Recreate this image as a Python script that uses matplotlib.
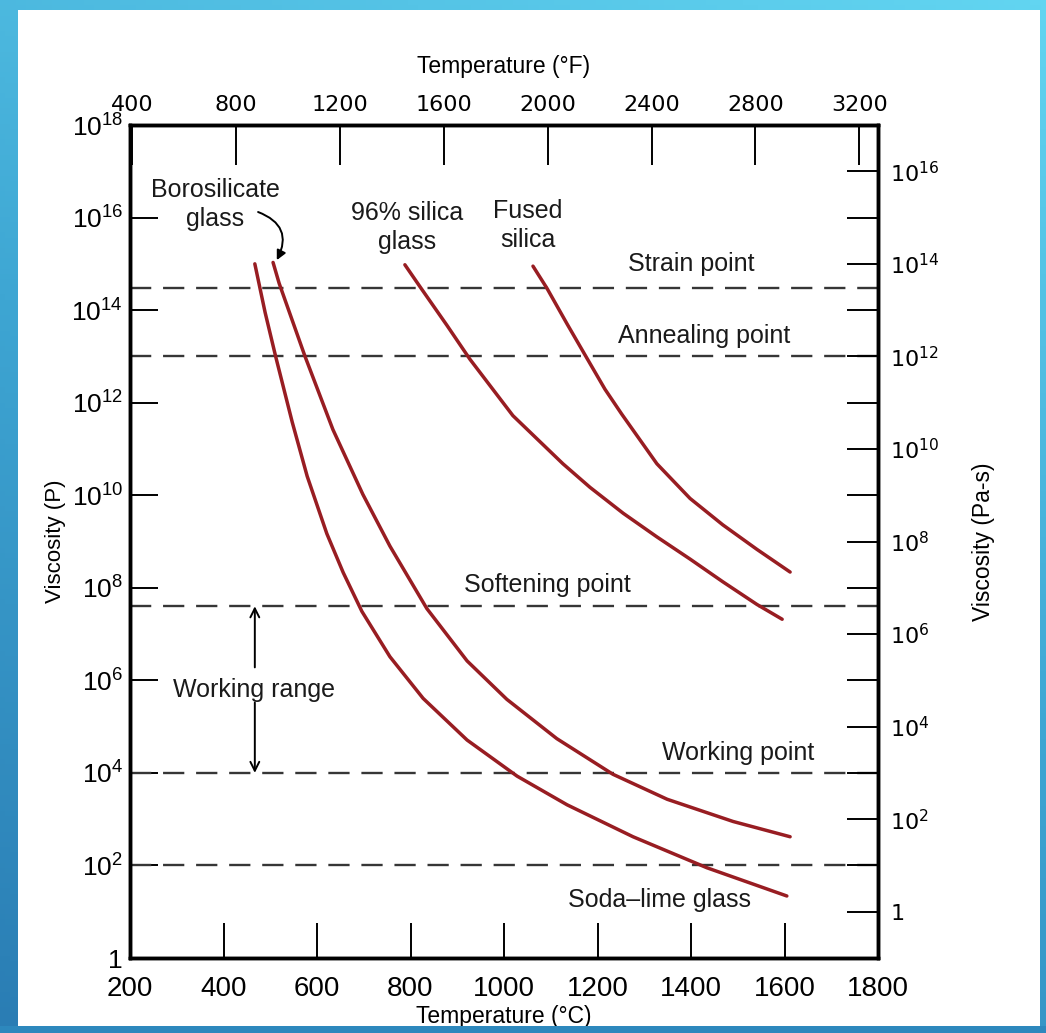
import matplotlib
matplotlib.use("Agg")
import matplotlib.pyplot as plt
import numpy as np
from matplotlib.colors import LinearSegmentedColormap
from matplotlib.patches import Rectangle
from matplotlib.ticker import FixedLocator, NullLocator

plt.rcParams["font.family"] = ["Liberation Sans", "DejaVu Sans"]
plt.rcParams["mathtext.default"] = "regular"

# temperature in deg C, viscosity as log10(P)
soda_lime_T = [467, 489, 512, 547, 579, 621, 656, 696, 756, 827, 921, 1028, 1135, 1276, 1434, 1605]
soda_lime_logP = [15.00, 13.95, 12.98, 11.58, 10.41, 9.17, 8.33, 7.49, 6.51, 5.61, 4.71, 3.93, 3.31, 2.62, 1.95, 1.34]

borosilicate_T = [506, 519, 574, 634, 698, 756, 835, 921, 1006, 1113, 1233, 1349, 1490, 1612]
borosilicate_logP = [15.03, 14.58, 13.01, 11.42, 10.02, 8.90, 7.55, 6.42, 5.59, 4.74, 3.97, 3.43, 2.95, 2.62]

silica96_T = [788, 820, 878, 927, 1019, 1126, 1184, 1255, 1327, 1398, 1468, 1541, 1595]
silica96_logP = [14.98, 14.51, 13.67, 12.94, 11.72, 10.68, 10.17, 9.61, 9.10, 8.62, 8.13, 7.64, 7.32]

fused_T = [1062, 1092, 1135, 1178, 1216, 1252, 1327, 1398, 1468, 1541, 1612]
fused_logP = [14.95, 14.47, 13.70, 12.95, 12.29, 11.75, 10.68, 9.93, 9.36, 8.83, 8.34]

# reference viscosity levels, log10(P)
level_names = ["Strain point", "Annealing point", "Softening point", "Working point", "Melting"]
level_logP = [14.48, 13.0, 7.6, 4.0, 2.0]

c_ticks = [200, 400, 600, 800, 1000, 1200, 1400, 1600, 1800]
f_ticks = [400, 800, 1200, 1600, 2000, 2400, 2800, 3200]
p_exponents = list(range(0, 19, 2))
pas_exponents = list(range(0, 17))

curve_color = "#981d22"
dash_color = "#363636"


def c_to_f(c):
    return c * 9 / 5 + 32


def exp_label(e):
    return "1" if e == 0 else f"$10^{{{e}}}$"


fig = plt.figure(figsize=(10.46, 10.33), dpi=100)

# blue frame behind the white page
frame_cmap = LinearSegmentedColormap.from_list("frame", ["#2a7db4", "#3ea6d3", "#62d5f1"])
bg = fig.add_axes([0, 0, 1, 1], zorder=-10)
g = np.linspace(0, 1, 200)
gx, gy = np.meshgrid(g, g)
bg.imshow(0.7 * gy + 0.3 * gx, extent=[0, 1, 0, 1], origin="lower", aspect="auto",
          cmap=frame_cmap, vmin=0, vmax=1)
bg.add_patch(Rectangle((18 / 1046, 1 - 1026 / 1033), 1022 / 1046, 1016 / 1033,
                       color="white", lw=0))
bg.set_xlim(0, 1)
bg.set_ylim(0, 1)
bg.axis("off")

ax = fig.add_axes([130 / 1046, 1 - 958 / 1033, 748 / 1046, 833 / 1033])
ax.set_facecolor("white")
ax.set_xlim(200, 1800)
ax.set_yscale("log")
ax.set_ylim(1, 1e18)

for lvl in level_logP:
    ax.axhline(10 ** lvl, color=dash_color, lw=1.7, dashes=(9, 5))

for T, lp in [(soda_lime_T, soda_lime_logP), (borosilicate_T, borosilicate_logP),
              (silica96_T, silica96_logP), (fused_T, fused_logP)]:
    ax.plot(T, 10 ** np.asarray(lp), color=curve_color, lw=2.5,
            solid_capstyle="round", solid_joinstyle="round")

# labels on the chart
txt = dict(ha="center", va="center", fontsize=18, color="#1a1a1a")
ax.text(382, 10 ** 16.28, "Borosilicate\nglass", linespacing=1.25, **txt)
ax.text(793, 10 ** 15.79, "96% silica\nglass", linespacing=1.25, **txt)
ax.text(1051, 10 ** 15.83, "Fused\nsilica", linespacing=1.25, **txt)
ax.text(1400, 10 ** 14.99, level_names[0], **txt)
ax.text(1428, 10 ** 13.45, level_names[1], **txt)
ax.text(1092, 10 ** 8.06, level_names[2], **txt)
ax.text(1501, 10 ** 4.44, level_names[3], **txt)
ax.text(465, 10 ** 5.80, "Working range", **txt)
ax.text(1332, 10 ** 1.26, "Soda\u2013lime glass", **txt)

ax.annotate("", xy=(514, 10 ** 15.08), xytext=(474, 10 ** 16.12),
            arrowprops=dict(arrowstyle="-|>", connectionstyle="arc3,rad=-0.55",
                            color="black", lw=1.4, mutation_scale=14,
                            shrinkA=0, shrinkB=0))
arrow_kw = dict(arrowstyle="->", color="black", lw=1.4, mutation_scale=16,
                shrinkA=0, shrinkB=0)
ax.annotate("", xy=(467, 10 ** 7.6), xytext=(467, 10 ** 6.28), arrowprops=arrow_kw)
ax.annotate("", xy=(467, 10 ** 4.0), xytext=(467, 10 ** 5.52), arrowprops=arrow_kw)

# bottom / left axes
ax.set_xticks(c_ticks)
ax.yaxis.set_major_locator(FixedLocator([10.0 ** e for e in p_exponents]))
ax.yaxis.set_minor_locator(NullLocator())
ax.set_yticklabels([exp_label(e) for e in p_exponents])
ax.tick_params(axis="x", direction="in", length=25, width=1.4, pad=13, labelsize=20,
               top=False)
ax.tick_params(axis="y", direction="in", length=20, width=1.4, pad=5, labelsize=19,
               right=False)
ax.set_xlabel("Temperature (\u00b0C)", fontsize=16.5, labelpad=2)
ax.set_ylabel("Viscosity (P)", fontsize=16, labelpad=4)

# top axis in Fahrenheit
ax_f = ax.twiny()
ax_f.set_xlim(c_to_f(200), c_to_f(1800))
ax_f.set_xticks(f_ticks)
ax_f.tick_params(axis="x", direction="in", length=29, width=1.4, pad=7, labelsize=16,
                 labelfontfamily="DejaVu Sans")
ax_f.set_xlabel("Temperature (\u00b0F)", fontsize=16.5, labelpad=16)

# right axis in Pa-s
ax_pa = ax.twinx()
ax_pa.set_yscale("log")
ax_pa.set_ylim(0.1, 1e17)
ax_pa.yaxis.set_major_locator(FixedLocator([10.0 ** e for e in pas_exponents]))
ax_pa.yaxis.set_minor_locator(NullLocator())
ax_pa.set_yticklabels([exp_label(e) if e % 2 == 0 else "" for e in pas_exponents])
ax_pa.tick_params(axis="y", direction="in", length=22, width=1.4, pad=9, labelsize=16,
                  labelfontfamily="DejaVu Sans")
ax_pa.set_ylabel("Viscosity (Pa-s)", fontsize=16.5, labelpad=23)

for a in (ax, ax_f, ax_pa):
    for sp in a.spines.values():
        sp.set_linewidth(2.4)
        sp.set_color("black")

# bottom strip of the blue frame
fig.add_artist(Rectangle((0, 0), 1, 1 - 1026 / 1033, transform=fig.transFigure,
                         color="#2d88bd", lw=0, zorder=10))

fig.savefig("out.png", dpi=100)
